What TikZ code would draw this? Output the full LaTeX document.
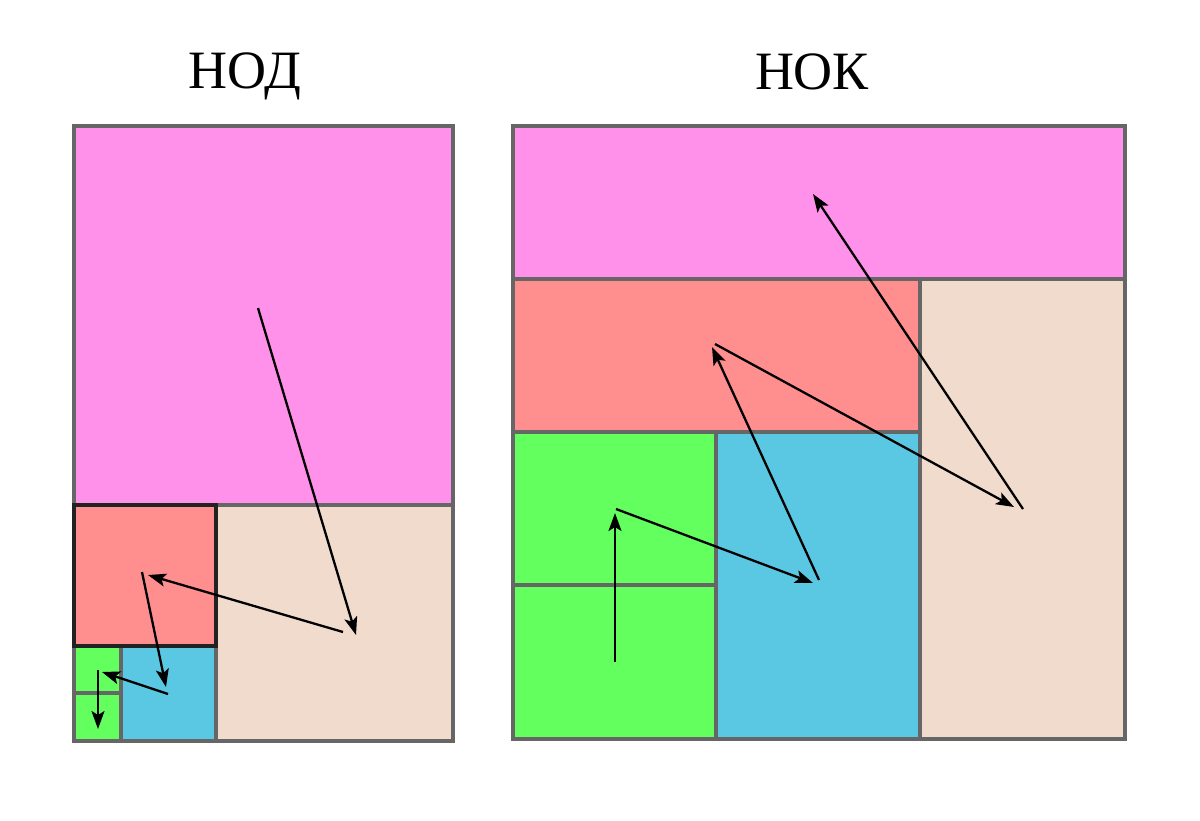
\documentclass[tikz,border=0pt]{standalone}
\usepackage{fontspec}
\setmainfont{Liberation Serif}
\usetikzlibrary{arrows.meta}
\definecolor{cpink}{HTML}{FF91EA}
\definecolor{cred}{HTML}{FF8F8F}
\definecolor{cbeige}{HTML}{F0DBCC}
\definecolor{cgreen}{HTML}{63FF5F}
\definecolor{cblue}{HTML}{5BC8E3}
\definecolor{cedge}{HTML}{666666}
\definecolor{cdark}{HTML}{222222}
\tikzset{
  cell/.style={draw=cedge, line width=3.4pt},
  darkcell/.style={draw=cdark, line width=3.6pt},
  jump/.style={draw=black, line width=2.3pt, -{Stealth[length=18pt,width=13pt,inset=4pt]}},
  heading/.style={font=\fontsize{54}{58}\selectfont, anchor=base, inner sep=0pt}
}
\begin{document}
\begin{tikzpicture}[x=1pt,y=-1pt]
\useasboundingbox (0,0) rectangle (1200,820);
% titles
\node[heading] (t1) at (245,88) {НОД};
\node[heading] (t2) at (812,89) {НОК};
% left figure
\draw[cell, fill=cpink]  (74,126) rectangle (453,505);
\draw[cell, fill=cbeige] (216,505) rectangle (453,741);
\draw[cell, fill=cblue]  (121,646) rectangle (216,741);
\draw[cell, fill=cgreen] (74,646) rectangle (121,693);
\draw[cell, fill=cgreen] (74,693) rectangle (121,741);
\draw[darkcell, fill=cred] (74,505) rectangle (216,646);
% right figure
\draw[cell, fill=cpink]  (513,126) rectangle (1125,279);
\draw[cell, fill=cred]   (513,279) rectangle (920,432);
\draw[cell, fill=cbeige] (920,279) rectangle (1125,739);
\draw[cell, fill=cgreen] (513,432) rectangle (716,585);
\draw[cell, fill=cgreen] (513,585) rectangle (716,739);
\draw[cell, fill=cblue]  (716,432) rectangle (920,739);
% left arrow points
\coordinate (a1s) at (258,308);
\coordinate (a1e) at (356,635);
\coordinate (a2s) at (343,632);
\coordinate (a2e) at (148,575);
\coordinate (a3s) at (142,572);
\coordinate (a3e) at (166,687);
\coordinate (a4s) at (168,694);
\coordinate (a4e) at (102,672);
\coordinate (a5s) at (98,670);
\coordinate (a5e) at (98,729);
\draw[jump] (a1s) -- (a1e);
\draw[jump] (a2s) -- (a2e);
\draw[jump] (a3s) -- (a3e);
\draw[jump] (a4s) -- (a4e);
\draw[jump] (a5s) -- (a5e);
% right arrow points
\coordinate (b1s) at (615,662);
\coordinate (b1e) at (615,513);
\coordinate (b2s) at (616,509);
\coordinate (b2e) at (813,583);
\coordinate (b3s) at (819,580);
\coordinate (b3e) at (712,347);
\coordinate (b4s) at (715,344);
\coordinate (b4e) at (1014,507);
\coordinate (b5s) at (1023,509);
\coordinate (b5e) at (813,194);
\draw[jump] (b1s) -- (b1e);
\draw[jump] (b2s) -- (b2e);
\draw[jump] (b3s) -- (b3e);
\draw[jump] (b4s) -- (b4e);
\draw[jump] (b5s) -- (b5e);
\end{tikzpicture}
\end{document}
